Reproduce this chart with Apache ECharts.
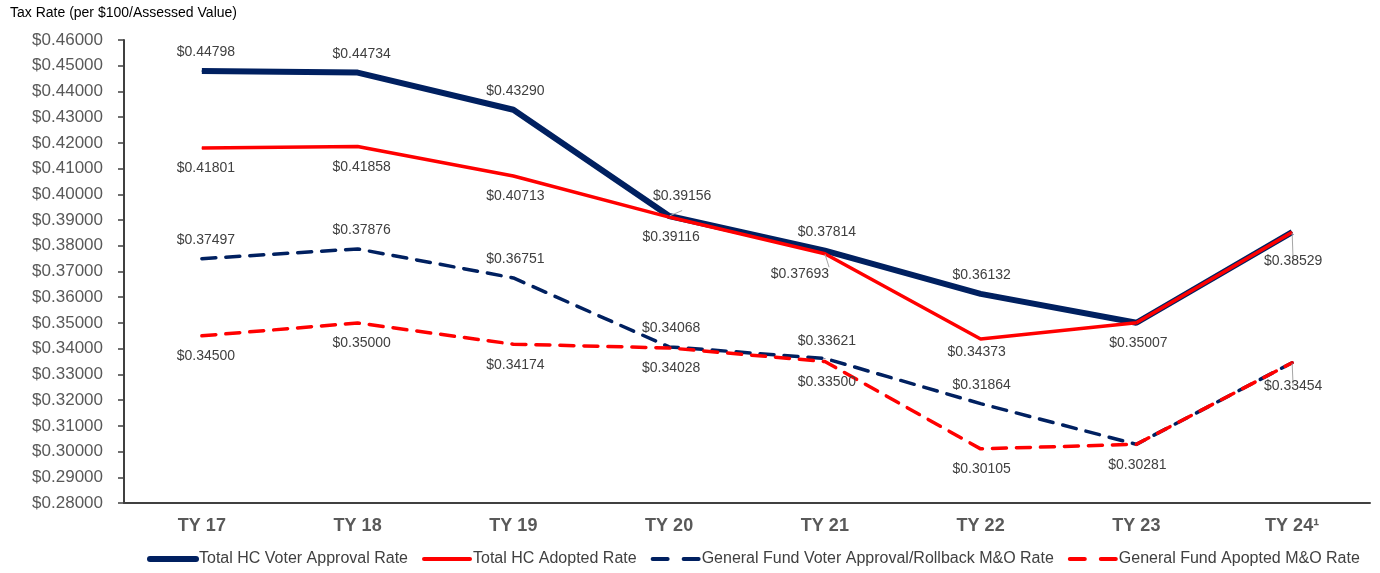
<!DOCTYPE html>
<html>
<head>
<meta charset="utf-8">
<script src="https://cdn.jsdelivr.net/npm/echarts@6/dist/echarts.min.js"></script>
<style>
  html, body { margin: 0; padding: 0; background: #fff; }
  #chart { width: 1380px; height: 573px; }
</style>
</head>
<body>
<div id="chart"></div>
<script>
const categories = ['TY 17', 'TY 18', 'TY 19', 'TY 20', 'TY 21', 'TY 22', 'TY 23', 'TY 24\u00b9']

const voterApproval = [0.44798, 0.44734, 0.43290, 0.39156, 0.37814, 0.36132, 0.35007, 0.38529]
const adopted = [0.41801, 0.41858, 0.40713, 0.39116, 0.37693, 0.34373, 0.35007, 0.38529]
const gfVoterApproval = [0.37497, 0.37876, 0.36751, 0.34068, 0.33621, 0.31864, 0.30281, 0.33454]
const gfAdopted = [0.34500, 0.35000, 0.34174, 0.34028, 0.33500, 0.30105, 0.30281, 0.33454]

// label placement per point: p = position, dx/dy = nudge, line = leader line, null = hidden
const voterLabels = [
  { p: 'top', dx: 4 }, { p: 'top', dx: 4 }, { p: 'top', dx: 2 },
  { p: 'top', dx: 13, dy: -1, line: true }, { p: 'top', dx: 2 }, { p: 'top', dx: 1 },
  { p: 'bottom', dx: 2 }, { p: 'bottom', dx: 1, dy: 8, line: true }
]
const adoptedLabels = [
  { p: 'bottom', dx: 4 }, { p: 'bottom', dx: 4 }, { p: 'bottom', dx: 2 },
  { p: 'bottom', dx: 2 }, { p: 'bottom', dx: -25, line: true }, { p: 'bottom', dx: -4, dy: -7 },
  null, null
]
const gfVoterLabels = [
  { p: 'top', dx: 4 }, { p: 'top', dx: 4 }, { p: 'top', dx: 2 },
  { p: 'top', dx: 2 }, { p: 'top', dx: 2, dy: 1 }, { p: 'top', dx: 1 },
  { p: 'bottom', dx: 1 }, { p: 'bottom', dx: 1, dy: 3, line: true }
]
const gfAdoptedLabels = [
  { p: 'bottom', dx: 4 }, { p: 'bottom', dx: 4 }, { p: 'bottom', dx: 2 },
  { p: 'bottom', dx: 2 }, { p: 'bottom', dx: 2 }, { p: 'bottom', dx: 1 },
  null, null
]

const NAVY = '#002060'
const RED = '#ff0000'
const LABEL_COLOR = '#404040'
const FONT = '"Liberation Sans", Arial, sans-serif'
const DASH = [14, 10]

function buildData(values, labels) {
  return values.map((v, i) => {
    const l = labels[i]
    if (!l) return { value: v, label: { show: false } }
    return {
      value: v,
      label: {
        show: true,
        position: l.p,
        distance: l.p === 'top' ? 11 : 13,
        offset: [l.dx || 0, l.dy || 0]
      },
      labelLine: { show: !!l.line }
    }
  })
}

function makeSeries(name, values, labels, color, width, dashed) {
  return {
    name: name,
    type: 'line',
    data: buildData(values, labels),
    symbol: 'circle',
    symbolSize: 1,
    itemStyle: { color: color },
    lineStyle: {
      color: color,
      width: width,
      type: dashed ? DASH : 'solid',
      cap: dashed ? 'round' : 'butt'
    },
    label: {
      formatter: p => '$' + p.value.toFixed(5),
      color: LABEL_COLOR,
      fontSize: 14,
      fontFamily: FONT
    },
    labelLine: {
      lineStyle: { color: '#a6a6a6', width: 1 }
    },
    emphasis: { disabled: true },
    animation: false
  }
}

function legendItem(name, color, width, dashed) {
  return {
    name: name,
    itemStyle: { opacity: 0 },
    lineStyle: { color: color, width: width, type: dashed ? [15, 16] : 'solid', cap: 'round' }
  }
}

const chart = echarts.init(document.getElementById('chart'))

chart.setOption({
  backgroundColor: '#fff',
  title: {
    text: 'Tax Rate (per $100/Assessed Value)',
    left: 5,
    top: 1,
    textStyle: { fontSize: 14, fontWeight: 'normal', color: '#000', fontFamily: FONT }
  },
  grid: { left: 124, right: 10, top: 40, bottom: 70 },
  legend: {
    bottom: 1,
    left: 142,
    itemWidth: 46,
    itemHeight: 14,
    itemGap: 14,
    textStyle: { fontSize: 16, color: LABEL_COLOR, fontFamily: FONT, padding: [0, 0, 0, -2] },
    data: [
      legendItem('Total HC Voter Approval Rate', NAVY, 6, false),
      legendItem('Total HC Adopted Rate', RED, 4, false),
      legendItem('General Fund Voter Approval/Rollback M&O Rate', NAVY, 4, true),
      legendItem('General Fund Apopted M&O Rate', RED, 4, true)
    ]
  },
  xAxis: {
    type: 'category',
    data: categories,
    axisLine: { lineStyle: { color: '#404040', width: 2 } },
    axisTick: { show: false },
    axisLabel: {
      margin: 14,
      fontSize: 18,
      fontWeight: 'bold',
      color: '#595959',
      fontFamily: FONT
    }
  },
  yAxis: {
    type: 'value',
    min: 0.28,
    max: 0.46,
    interval: 0.01,
    axisLine: { show: true, lineStyle: { color: '#404040', width: 2 } },
    axisTick: { show: true, length: 6, lineStyle: { color: '#404040', width: 1.5 } },
    splitLine: { show: false },
    axisLabel: {
      margin: 21,
      fontSize: 17,
      color: '#595959',
      fontFamily: FONT,
      formatter: v => '$' + v.toFixed(5)
    }
  },
  series: [
    makeSeries('Total HC Voter Approval Rate', voterApproval, voterLabels, NAVY, 6, false),
    makeSeries('Total HC Adopted Rate', adopted, adoptedLabels, RED, 3.5, false),
    makeSeries('General Fund Voter Approval/Rollback M&O Rate', gfVoterApproval, gfVoterLabels, NAVY, 3.5, true),
    makeSeries('General Fund Apopted M&O Rate', gfAdopted, gfAdoptedLabels, RED, 3.5, true)
  ]
})
</script>
</body>
</html>
